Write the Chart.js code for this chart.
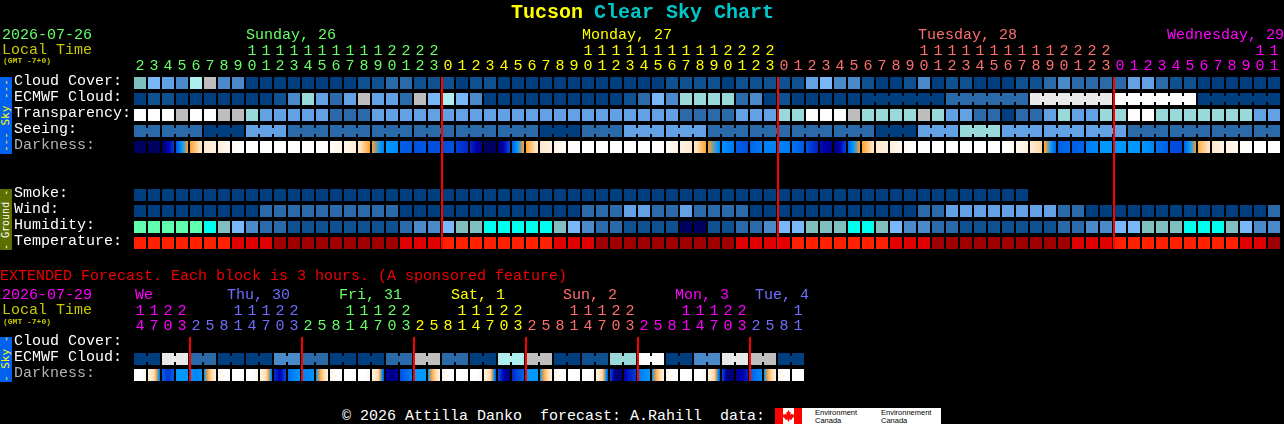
<!DOCTYPE html>
<html><head><meta charset="utf-8"><title>Tucson Clear Sky Chart</title>
<script src="https://cdn.jsdelivr.net/npm/chart.js@4"></script>
<style>
html,body{margin:0;padding:0;background:#000;width:1284px;height:424px;overflow:hidden}
canvas{position:absolute;left:0;display:block}
.t{position:absolute;font-family:"Liberation Mono",monospace;font-size:15px;line-height:20px;height:20px;white-space:pre;z-index:3}
.side{position:absolute;left:0;width:12px;writing-mode:vertical-rl;transform:rotate(180deg);text-align:center;font-family:"DejaVu Sans Mono",monospace;line-height:12px;white-space:pre;overflow:hidden;z-index:3}
</style></head><body>
<canvas id="main" style="top:0"></canvas>
<canvas id="ext" style="top:260px"></canvas>
<div id="texts"></div>
<script>
// ---- column headers -------------------------------------------------------
const hours=[2,3,4,5,6,7,8,9,10,11,12,13,14,15,16,17,18,19,20,21,22,23,
0,1,2,3,4,5,6,7,8,9,10,11,12,13,14,15,16,17,18,19,20,21,22,23,
0,1,2,3,4,5,6,7,8,9,10,11,12,13,14,15,16,17,18,19,20,21,22,23,
0,1,2,3,4,5,6,7,8,9,10,11];
const midnightCols=[22,46,70];
const dayColors=["#66ff66","#ffff00","#ff6e6e","#ff00ff"];
const extHours=[14,17,20,23,
2,5,8,11,14,17,20,23, 2,5,8,11,14,17,20,23, 2,5,8,11,14,17,20,23,
2,5,8,11,14,17,20,23, 2,5,8,11,14,17,20,23, 2,5,8,11];
const extMidnightCols=[4,12,20,28,36,44];
const extDayColors=["#ff00ff","#6e6eff","#66ff66","#ffff00","#ff6e6e","#ff00ff","#6e6eff"];
const rowLabels=["Cloud Cover:","ECMWF Cloud:","Transparency:","Seeing:","Darkness:","","","Smoke:","Wind:","Humidity:","Temperature:"];
const extRowLabels=["Cloud Cover:","ECMWF Cloud:","Darkness:"];

// ---- hourly forecast levels ----------------------------------------------
const cloudCover=[6,5,4,3,8,9,3,3,0,0, 0,0,0,0,0,0,1,1,2,2, 1,1,1,0,1,1,0,0,0,0, 0,0,0,0,0,0,0,0,1,1,
1,1,0,1,1,1,1,1,4,5, 3,3,1,0,0,1,3,0,1,1, 0,0,0,1,1,2,3,2,2,2, 2,4,4,2,1,1,0,0,0,0, 0,0];
const ecmwfCloud=[0,1,1,0,0,0,0,0,0,0, 1,3,7,4,2,4,9,4,4,2, 9,5,8,5,3,0,0,0,0,0, 0,0,0,0,0,1,2,5,3,7,
7,7,7,2,3,0,1,0,0,0, 0,0,0,0,0,0,0,0,2,2, 2,2,2,2,10,10,10,10,10,10, 11,11,11,11,11,11,0,0,0,0, 0,0];
const transparency=[11,11,11,9,11,11,9,9,7,4, 4,4,4,4,2,2,2,4,4,4, 4,4,4,4,4,4,4,4,4,4, 4,4,4,4,4,4,4,4,4,2,
2,2,2,4,4,4,7,7,11,11, 11,9,7,7,7,7,9,7,4,4, 2,2,0,2,2,4,7,4,4,7, 7,11,11,7,7,7,7,7,7,7, 4,4];
const seeing=[2,2,2,2,2,0,0,0,4,4, 4,2,2,2,2,2,2,2,2,2, 2,2,2,2,2,2,2,2,2,0, 0,0,2,2,2,4,4,4,4,4,
4,2,2,2,2,2,2,2,2,2, 2,2,2,0,0,0,4,4,4,7, 7,7,4,4,4,4,4,4,4,4, 4,2,2,2,2,2,2,2,2,2, 2,2];
const darknessStart=[0,0,0,2,4,5.3,5.5,5.8,6,6, 6,6,6,6,5.9,5.7,5.3,4,3,2.2, 2,2,2,1.8,1.5,0,0.2,2.2,4,5.3,
5.6,5.9,6,6,6,6,6,6,5.9,5.6, 5.3,4,2.9,2.2,2.3,2.7,2.7,2.5,2,1.2, 0.2,2.2,4,5.3,5.5,5.8,6,6,6,6,
6,6,6,5.8,5.4,4.2,2.2,2.2,2.6,3, 3,3,3,2.5,2,2.2,4.2,5.3,5.6,5.9, 6,6];
const darknessEnd=[0,0,1.8,4,5.3,5.6,5.8,6,6,6, 6,6,6,6,5.7,5.4,4,2.6,2.8,2.1, 2.1,2,2,1.5,0.5,0,2,4,5.3,5.5,
5.9,6,6,6,6,6,6,5.9,5.6,5.3, 4,2.8,2.5,2,2.6,2.7,2.6,2.1,1.4,0.5, 1.9,4,5.2,5.5,5.8,6,6,6,6,6,
6,6,5.8,5.5,4.8,2.2,2.4,2.3,2.8,3, 3,3,2.7,2.2,1.9,3.9,5.2,5.6,5.8,6, 6,6];
const smoke=[0,0,0,0,0,0,0,0,0,0, 0,0,0,0,0,0,0,0,0,0, 0,0,0,0,0,0,0,0,0,0, 0,0,0,0,0,0,0,0,0,0,
0,0,0,0,0,0,0,0,0,0, 0,0,0,0,0,0,0,0,0,0, 0,0,0,0];
const wind=[0,0,0,0,0,0,0,0,0,2, 2,2,2,2,2,2,2,2,2,0, 0,0,0,0,0,0,0,0,0,0, 0,0,2,2,2,4,4,2,2,4,
2,2,2,2,0,0,0,0,0,0, 0,0,0,0,0,0,2,2,4,4, 4,4,4,4,4,4,2,2,0,0, 0,0,0,0,0,0,0,0,0,0, 0,2];
const humidity=[12,12,12,12,12,13,6,5,3,2, 2,1,1,1,1,1,1,1,1,2, 3,3,5,6,6,13,13,13,13,13, 6,5,3,2,2,1,1,1,1,14,
14,1,1,2,2,3,5,5,6,6, 6,13,13,6,5,3,3,2,2,1, 1,1,1,1,1,1,2,2,3,3, 5,5,6,6,6,13,13,13,6,5, 3,3];
const temperature=[0,0,0,0,0,0,0,1,1,1, 2,2,2,2,2,2,2,2,2,1, 1,1,0,0,0,0,0,0,0,0, 1,1,1,2,2,2,2,2,2,2,
2,2,2,1,1,1,1,0,0,0, 0,0,0,0,1,1,1,2,2,2, 2,2,2,2,2,2,2,1,1,1, 0,0,0,0,0,0,0,0,0,1, 1,2];
const seeingBlocks=[0,2,5,8,11,14,17,20,23,26,29,32,35,38,41,44,47,50,53,56,59,62,65,68,71,74,77,80,82];
const ecmwfBlocks=[52,58,64,70,76,82];

// ---- extended (3 hour) forecast levels ------------------------------------
const extEcmwf=[0,0,10,10,2,2,0,0,0,0,3,3,2,2,0,0,0,0,2,2,9,9,2,2,0,0,8,8,9,9,0,0,1,1,7,7,11,11,0,0,3,3,10,10,9,9,0,0];
const extDarkStart=[6,5.6,2.2,3,3,3,5.7,6, 6,5.6,1.6,2.4,2.8,3,5.7,6, 6,5.6,1,2,3,3,5.7,6, 6,5.6,2,1.5,3,3,5.7,6, 6,5.6,2,1,2.5,3,5.7,6, 6,5.6,2,0.5,2.2,3,5.7,6];
const extDarkMid=[6,5,1.7,3,2.7,4.6,5.9,6, 6,5,1,2.7,2.7,4.6,5.9,6, 6,5,0.3,2.3,3,4.6,5.9,6, 6,5,1,1.9,3,4.6,5.9,6, 6,5,0.3,1.4,2.8,4.6,5.9,6, 6,5,0.3,1,2.5,4.6,5.9,6];
const extDarkEnd=[5.7,2.5,2.2,3,3,5.6,6,6, 5.7,2.5,2,3,3,5.6,6,6, 5.7,2,1,2.7,3,5.6,6,6, 5.7,2,0.2,2.3,3,5.6,6,6, 5.7,2,0.2,1.8,3,5.6,6,6, 5.7,2,0.2,1.4,2.8,5.6,6,6];
const extBlocks=[0,2,4,6,8,10,12,14,16,18,20,22,24,26,28,30,32,34,36,38,40,42,44,46,48];

// ---- styling ---------------------------------------------------------------
const skyPalette=["#003f7f","#0f5090","#2b6aa9","#4a8acb","#62a2e4","#78b8f8","#80bfbf","#99d9d9","#aeeeee","#bebebe","#e9e9e9","#fdfdfd","#5fffaf","#00ffee","#00005f"];
const tempPalette=["#ff2000","#e00000","#a00000"];
const darkRamp=[[0,0,96],[0,0,176],[0,80,224],[0,152,255],[255,160,48],[255,224,184],[255,255,255]];
const FONT="'Liberation Mono', monospace";
const HALF=0.375, BRIDGE=0.1875, PITCH=14, PLOT_LEFT=133;

function rampColor(v){
  const i=Math.min(5,Math.floor(v)),f=v-i,a=darkRamp[i],b=darkRamp[i+1];
  return `rgb(${a.map((c,k)=>Math.round(c+(b[k]-c)*f)).join(",")})`;
}
function cells(values,row,palette){
  return {data:values.map((v,i)=>({x:i,y:[row-HALF,row+HALF]})),backgroundColor:values.map(v=>palette[v]),
    barThickness:12,grouped:false,inflateAmount:0,borderWidth:0,order:2};
}
function bridges(values,row,palette,blocks){
  const data=[],colors=[];
  for(let b=0;b<blocks.length-1;b++) for(let i=blocks[b];i<blocks[b+1]-1;i++){
    data.push({x:i+0.5,y:[row-BRIDGE,row+BRIDGE]});colors.push(palette[values[i]]);
  }
  return {data,backgroundColor:colors,barThickness:2,grouped:false,inflateAmount:0,borderWidth:0,order:3};
}
function darkCells(starts,ends,row,mids){
  return {data:starts.map((v,i)=>({x:i,y:[row-HALF,row+HALF]})),barThickness:12,grouped:false,inflateAmount:0,borderWidth:0,order:2,
    backgroundColor(ctx){
      const i=ctx.dataIndex,sc=ctx.chart.scales.x;
      if(i===undefined||!sc) return "#000";
      const cx=sc.getPixelForValue(i);
      if(!Number.isFinite(cx)) return "#000";
      const g=ctx.chart.ctx.createLinearGradient(cx-6,0,cx+6,0);
      const a=starts[i],c=ends[i],b=mids?mids[i]:(a+c)/2;
      for(let s=0;s<=12;s++){
        const t=s/12,v=t<0.5?a+(b-a)*t*2:b+(c-b)*(t-0.5)*2;
        g.addColorStop(t,rampColor(v));
      }
      return g;
    }};
}
function midnightLines(cols,lastRow){
  return {data:cols.map(c=>({x:c-0.5+1/PITCH,y:[-HALF,lastRow+HALF]})),backgroundColor:"#ff0000",
    barThickness:2,grouped:false,inflateAmount:0,borderWidth:0,order:0};
}
function dayIndex(cols,i){let d=0;for(const c of cols) if(i>=c) d++;return d;}
function build(id,height,hrs,mids,colors,labels,datasets){
  const lastCol=hrs.length-1,lastRow=labels.length-1;
  const cv=document.getElementById(id);cv.width=1284;cv.height=height;cv.style.width="1284px";cv.style.height=height+"px";
  return new Chart(cv,{type:"bar",data:{datasets},options:{
    responsive:false,animation:false,devicePixelRatio:1,events:[],
    layout:{padding:{top:10,left:14,right:1284-PLOT_LEFT-hrs.length*PITCH,bottom:height-75-(labels.length*16)}},
    plugins:{legend:{display:false},tooltip:{enabled:false},title:{display:false}},
    scales:{
      x:{type:"linear",position:"top",offset:false,min:-0.5,max:lastCol+0.5,
        grid:{display:false,drawTicks:false},border:{display:false},
        afterBuildTicks(s){s.ticks=hrs.map((h,i)=>({value:i}));},
        afterFit(s){s.height=65;},
        ticks:{autoSkip:false,maxRotation:0,minRotation:0,padding:1,
          font:{family:FONT,size:15,lineHeight:"15px"},
          color:c=>colors[dayIndex(mids,c.index)],
          callback(v,i){const h=hrs[i];return h>=10?[String(h)[0],String(h)[1]]:["",String(h)];}}},
      y:{type:"linear",position:"left",reverse:true,min:-0.5,max:lastRow+0.5,
        grid:{display:false},border:{display:false},
        afterBuildTicks(s){s.ticks=labels.map((l,i)=>({value:i}));},
        afterFit(s){s.width=119;},
        ticks:{autoSkip:false,crossAlign:"far",padding:0,
          font:{family:FONT,size:15,lineHeight:"4px"},
          color:c=>labels[c.index]==="Darkness:"?"#b4b4b4":"#ffffff",
          callback(v,i){return [labels[i],""];}}}
    }}});
}

build("main",260,hours,midnightCols,dayColors,rowLabels,[
  cells(cloudCover,0,skyPalette),
  cells(ecmwfCloud,1,skyPalette),bridges(ecmwfCloud,1,skyPalette,ecmwfBlocks),
  cells(transparency,2,skyPalette),
  cells(seeing,3,skyPalette),bridges(seeing,3,skyPalette,seeingBlocks),
  darkCells(darknessStart,darknessEnd,4),
  cells(smoke,7,skyPalette),cells(wind,8,skyPalette),cells(humidity,9,skyPalette),
  cells(temperature,10,tempPalette),
  midnightLines(midnightCols,10)
]);
build("ext",131,extHours,extMidnightCols,extDayColors,extRowLabels,[
  cells(extEcmwf,1,skyPalette),bridges(extEcmwf,1,skyPalette,extBlocks),
  darkCells(extDarkStart,extDarkEnd,2,extDarkMid),
  midnightLines(extMidnightCols,2)
]);

// ---- text around the charts -------------------------------------------------
const texts=[
 ["Tucson",511,13,"#ffff00",20,700],["Clear Sky Chart",594,13,"#00c8c8",20,700],
 ["2026-07-26",2,36,"#66ff66"],["Local Time",2,51,"#c8c800"],["(GMT -7+0)",3,61,"#c8c800",8,700],
 ["Sunday, 26",246,36,"#66ff66"],["Monday, 27",582,36,"#ffff00"],["Tuesday, 28",918,36,"#ff6e6e"],["Wednesday, 29",1167,36,"#ff00ff"],
 ["EXTENDED Forecast. Each block is 3 hours. (A sponsored feature)",0,277,"#f00000"],
 ["2026-07-29",2,296,"#ff00ff"],["Local Time",2,311,"#c8c800"],["(GMT -7+0)",3,322,"#c8c800",8,700],
 ["We",135,296,"#ff00ff"],["Thu, 30",227,296,"#6e6eff"],["Fri, 31",339,296,"#66ff66"],["Sat, 1",451,296,"#ffff00"],
 ["Sun, 2",563,296,"#ff6e6e"],["Mon, 3",675,296,"#ff00ff"],["Tue, 4",755,296,"#6e6eff"],
 ["© 2026 Attilla Danko  forecast: A.Rahill  data:",342,417,"#ffffff"]
];
const box=document.getElementById("texts");
for(const [s,x,y,c,size,w] of texts){
  const d=document.createElement("div");d.className="t";d.textContent=s;
  d.style.cssText=`left:${x}px;top:${y-10}px;color:${c};font-size:${size||15}px;font-weight:${w||400}`;
  box.appendChild(d);
}
const sides=[["--- Sky ---",77,77,"#0060f0","#ffff00",11],["- Ground -",189,61,"#5c7000","#ffffff",10],["- Sky -",337,45,"#0060f0","#ffff00",11]];
for(const [s,y,h,bg,c,size] of sides){
  const d=document.createElement("div");d.className="side";d.textContent=s;
  d.style.cssText=`top:${y}px;height:${h}px;background:${bg};color:${c};font-size:${size}px`;
  box.appendChild(d);
}
box.insertAdjacentHTML("beforeend",`<svg style="position:absolute;left:775px;top:408px;z-index:3" width="166" height="16" viewBox="0 0 166 16">
<rect width="166" height="16" fill="#fff"/><rect width="8" height="16" fill="#f00"/><rect x="19" width="8" height="16" fill="#f00"/>
<path d="M13.5 2l1.3 2.4 1-.5-.4 3 1.6-1.3.4 1 1.8-.3-.5 1.8.8.5-2.8 2.2.3 1-2.8-.3v2h-1.4v-2l-2.8.3.3-1-2.8-2.2.8-.5-.5-1.8 1.8.3.4-1 1.6 1.3-.4-3 1 .5z" fill="#f00"/>
<text x="40" y="7" font-family="Liberation Sans" font-size="7.5" fill="#000">Environment</text><text x="40" y="14.500" font-family="Liberation Sans" font-size="7.500" fill="#000">Canada</text>
<text x="106" y="7" font-family="Liberation Sans" font-size="7.5" fill="#000">Environnement</text><text x="106" y="14.500" font-family="Liberation Sans" font-size="7.500" fill="#000">Canada</text></svg>`);
</script></body></html>
